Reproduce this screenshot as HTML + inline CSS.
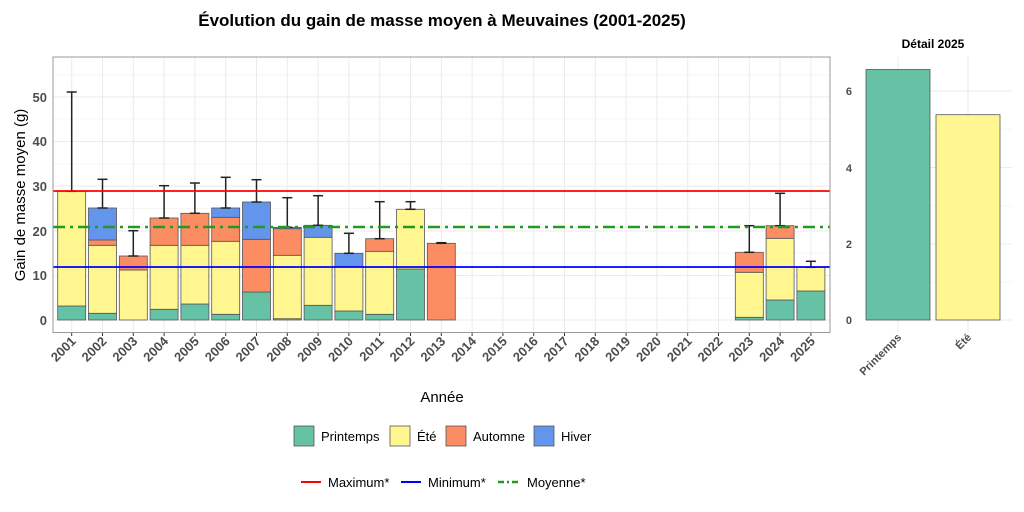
<!DOCTYPE html>
<html><head><meta charset="utf-8"><style>body{margin:0;background:#fff}svg{display:block}text{font-family:"Liberation Sans",sans-serif}</style></head>
<body>
<svg width="1024" height="512" viewBox="0 0 1024 512" xmlns="http://www.w3.org/2000/svg">
<rect width="1024" height="512" fill="#fff"/>
<text x="442" y="26" font-size="17" font-weight="bold" text-anchor="middle" fill="#000">Évolution du gain de masse moyen à Meuvaines (2001-2025)</text>
<g id="grid" stroke="#ebebeb" stroke-width="1">
<line x1="53" x2="830" y1="298" y2="298" stroke-width="0.6"/><line x1="53" x2="830" y1="253" y2="253" stroke-width="0.6"/><line x1="53" x2="830" y1="208.5" y2="208.5" stroke-width="0.6"/><line x1="53" x2="830" y1="164" y2="164" stroke-width="0.6"/><line x1="53" x2="830" y1="119" y2="119" stroke-width="0.6"/><line x1="53" x2="830" y1="75" y2="75" stroke-width="0.6"/>
<line x1="53" x2="830" y1="320" y2="320"/><line x1="53" x2="830" y1="275.5" y2="275.5"/><line x1="53" x2="830" y1="231" y2="231"/><line x1="53" x2="830" y1="186" y2="186"/><line x1="53" x2="830" y1="141.5" y2="141.5"/><line x1="53" x2="830" y1="97" y2="97"/>
</g>
<g id="vg" stroke="#ebebeb"></g>
<g id="bars" stroke="#555" stroke-width="0.8"></g>
<g id="err" stroke="#222" stroke-width="1.5"></g>
<line x1="53" x2="830" y1="191" y2="191" stroke="#ff0000" stroke-width="1.8"/>
<line x1="53" x2="830" y1="267" y2="267" stroke="#0000ff" stroke-width="1.8"/>
<line x1="53" x2="830" y1="227" y2="227" stroke="#229922" stroke-width="2.5" stroke-dasharray="12,5,3,5"/>
<rect x="53" y="57" width="777" height="275.5" fill="none" stroke="#999" stroke-width="1"/>
<g font-size="13" fill="#4d4d4d" text-anchor="end" font-weight="bold">
<text x="47" y="325">0</text><text x="47" y="280">10</text><text x="47" y="236">20</text><text x="47" y="191">30</text><text x="47" y="146">40</text><text x="47" y="102">50</text>
</g>
<g id="xl" font-size="13" font-weight="bold" fill="#4d4d4d"></g>
<text x="442" y="402" font-size="15" text-anchor="middle" fill="#000">Année</text>
<text transform="translate(25,195) rotate(-90)" font-size="15" text-anchor="middle" fill="#000">Gain de masse moyen (g)</text>
<text x="933" y="48" font-size="12" font-weight="bold" text-anchor="middle">Détail 2025</text>
<g stroke="#ebebeb"><line x1="865" x2="1012" y1="320" y2="320"/><line x1="865" x2="1012" y1="244" y2="244"/><line x1="865" x2="1012" y1="167.5" y2="167.5"/><line x1="865" x2="1012" y1="91" y2="91"/>
<line x1="865" x2="1012" y1="282" y2="282" stroke-width="0.6"/><line x1="865" x2="1012" y1="206" y2="206" stroke-width="0.6"/><line x1="865" x2="1012" y1="129" y2="129" stroke-width="0.6"/>
<line x1="898" x2="898" y1="57" y2="332"/><line x1="968" x2="968" y1="57" y2="332"/></g>
<rect x="866" y="69.5" width="64" height="250.5" fill="#66c2a5" stroke="#555" stroke-width="0.8"/>
<rect x="936" y="114.7" width="64" height="205.3" fill="#fff68f" stroke="#555" stroke-width="0.8"/>
<g font-size="11" font-weight="bold" fill="#4d4d4d" text-anchor="end"><text x="852" y="95">6</text><text x="852" y="172">4</text><text x="852" y="248">2</text><text x="852" y="324">0</text></g>
<g font-size="11" font-weight="bold" fill="#4d4d4d" text-anchor="end"><text transform="translate(902,338) rotate(-45)">Printemps</text><text transform="translate(972,338) rotate(-45)">Été</text></g>
<g font-size="13" fill="#000">
<rect x="294" y="426" width="20" height="20" fill="#66c2a5" stroke="#555" stroke-width="0.8"/><text x="321" y="441">Printemps</text>
<rect x="390" y="426" width="20" height="20" fill="#fff68f" stroke="#555" stroke-width="0.8"/><text x="417" y="441">Été</text>
<rect x="446" y="426" width="20" height="20" fill="#fc8d62" stroke="#555" stroke-width="0.8"/><text x="473" y="441">Automne</text>
<rect x="534" y="426" width="20" height="20" fill="#6495ed" stroke="#555" stroke-width="0.8"/><text x="561" y="441">Hiver</text>
<line x1="301" x2="321" y1="482" y2="482" stroke="#ff0000" stroke-width="2"/><text x="328" y="487">Maximum*</text>
<line x1="401" x2="421" y1="482" y2="482" stroke="#0000ff" stroke-width="2"/><text x="428" y="487">Minimum*</text>
<line x1="498" x2="520" y1="482" y2="482" stroke="#229922" stroke-width="2.5" stroke-dasharray="6,3,2,3"/><text x="527" y="487">Moyenne*</text>
</g>
<script>
(function(){
var ns="http://www.w3.org/2000/svg";
var C=["#66c2a5","#fff68f","#fc8d62","#6495ed"];
var D={2001:[[306,191.3,null,null],92],2002:[[313.3,245.3,240,208],179.3],2003:[[320,270,256,null],230.7],2004:[[309.3,245.3,218,null],185.7],2005:[[304,245.3,213.3,null],183],2006:[[314.3,241.3,217.3,208],177.3],2007:[[292,null,239.3,202],179.7],2008:[[318.7,255.3,228.7,227.3],197.7],2009:[[305.3,237.3,null,225.3],195.7],2010:[[311,266.7,null,253.3],233.3],2011:[[314.3,251.3,238.7,null],201.7],2012:[[269,209.3,null,null],201.7],2013:[[null,null,243.3,null],242.7],2023:[[317.3,272.3,252.3,null],225.7],2024:[[300,238.3,225.7,null],193.3],2025:[[291,267.3,null,null],261.3]};
var bars=document.getElementById('bars'),err=document.getElementById('err'),xl=document.getElementById('xl'),vg=document.getElementById('vg');
function el(p,t,a){var e=document.createElementNS(ns,t);for(var k in a)e.setAttribute(k,a[k]);p.appendChild(e);return e;}
for(var i=0;i<25;i++){var yr=2001+i,cx=71.7+i*30.8;
el(vg,'line',{x1:cx,x2:cx,y1:57,y2:332});
el(vg,'line',{x1:cx,x2:cx,y1:332,y2:336,stroke:'#333'});
var t=el(xl,'text',{transform:'translate('+(cx+5)+',342) rotate(-45)','text-anchor':'end'});t.textContent=yr;
var d=D[yr];if(!d)continue;var bs=320;
for(var s=0;s<4;s++){var tp=d[0][s];if(tp==null)continue;el(bars,'rect',{x:cx-14,y:tp,width:28,height:bs-tp,fill:C[s]});bs=tp;}
el(err,'line',{x1:cx,x2:cx,y1:bs,y2:d[1]});el(err,'line',{x1:cx-5,x2:cx+5,y1:d[1],y2:d[1]});el(err,'line',{x1:cx-5,x2:cx+5,y1:bs,y2:bs});
}
})();
</script>
</svg>
</body></html>
